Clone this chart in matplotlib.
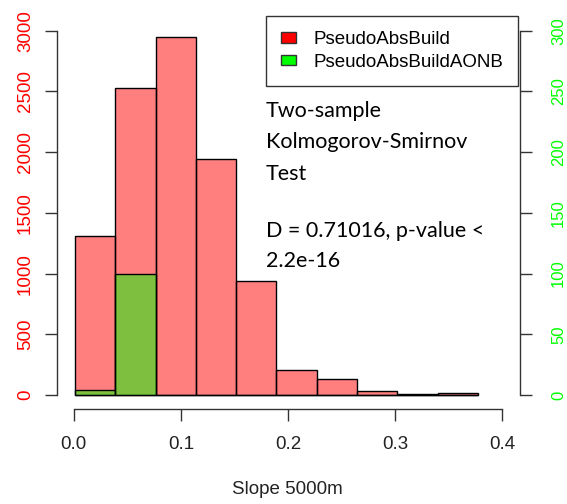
import matplotlib
matplotlib.use("Agg")
import matplotlib.pyplot as plt
import numpy as np
from matplotlib.patches import Patch

# ---- data ----
bin_start = 0.0012
bin_width = 0.0376
build_counts = [1312, 2531, 2949, 1944, 939, 203, 132, 35, 6, 15]
aonb_counts = [4, 100, 0, 0, 0, 0, 0, 0, 0, 0]
left_ticks = [0, 500, 1000, 1500, 2000, 2500, 3000]
right_ticks = [0, 50, 100, 150, 200, 250, 300]
x_ticks = [0.0, 0.1, 0.2, 0.3, 0.4]
x_ticklabels = ["0.0", "0.1", "0.2", "0.3", "0.4"]
legend_labels = ["PseudoAbsBuild", "PseudoAbsBuildAONB"]
annot_lines = ["Two-sample", "Kolmogorov-Smirnov", "Test", "D = 0.71016, p-value <", "2.2e-16"]
xlabel = "Slope 5000m"

W, H = 567, 504
fig = plt.figure(figsize=(W / 100, H / 100), dpi=100)
ax = fig.add_axes([57 / W, 1 - 409 / H, (520 - 57) / W, (409 - 15) / H])

lefts = bin_start + bin_width * np.arange(len(build_counts))
ax.bar(lefts, build_counts, width=bin_width, align="edge",
       facecolor=(1, 0, 0, 0.5), edgecolor="black", linewidth=1.0)
ax.set_xlim(-0.01559, 0.41652)
ax.set_ylim(-115.3, 3129.4)

ax2 = ax.twinx()
ax2.bar(lefts, aonb_counts, width=bin_width, align="edge",
        facecolor=(0, 1, 0, 0.5), edgecolor="black", linewidth=1.0)
ax2.set_ylim(-11.53, 312.94)

for a in (ax, ax2):
    for s in a.spines.values():
        s.set_visible(False)
    a.patch.set_visible(False)

ax.spines["left"].set_visible(True)
ax.spines["left"].set_bounds(0, 3000)
ax.spines["bottom"].set_visible(True)
ax.spines["bottom"].set_bounds(0, 0.4)
ax2.spines["right"].set_visible(True)
ax2.spines["right"].set_bounds(0, 300)
for s in (ax.spines["left"], ax.spines["bottom"], ax2.spines["right"]):
    s.set_color("#333333")
    s.set_linewidth(1.0)

ax.set_yticks(left_ticks)
ax.set_yticklabels([str(v) for v in left_ticks], rotation=90, va="center",
                   color="red", fontsize=13.5, family="Liberation Sans")
ax.tick_params(axis="y", length=8.5, width=1.0, color="#333333", pad=8)
ax.set_xticks(x_ticks)
ax.set_xticklabels(x_ticklabels, fontsize=13.5, family="Liberation Sans", color="#222222")
ax.tick_params(axis="x", length=8.5, width=1.0, color="#333333", pad=11)

ax2.set_yticks(right_ticks)
ax2.set_yticklabels([str(v) for v in right_ticks], rotation=90, va="center",
                    color="#00ff00", fontsize=12, family="Liberation Sans")
ax2.tick_params(axis="y", length=8.5, width=1.0, color="#333333", pad=14)

fig.text(287 / W, 1 - 490 / H, xlabel, ha="center", va="center",
         fontsize=13.5, family="Liberation Sans", color="#222222")

handles = [Patch(facecolor="red", edgecolor="#333333", linewidth=1.0),
           Patch(facecolor="#00ff00", edgecolor="#333333", linewidth=1.0)]
leg = fig.legend(handles, legend_labels, loc="upper left",
                 bbox_to_anchor=(266 / W, 1 - 16 / H),
                 prop={"family": "Liberation Sans", "size": 13.5},
                 frameon=True, fancybox=False, edgecolor="black",
                 handlelength=0.78, handleheight=0.5, handletextpad=0.95,
                 labelspacing=0.3, borderpad=0.8, borderaxespad=0)
leg.get_frame().set_linewidth(1.0)

baselines = [116.7, 148, 180, 236.7, 266.7]
for line, b in zip(annot_lines, baselines):
    fig.text(266 / W, 1 - b / H, line, ha="left", va="baseline",
             fontsize=15.5, family="Lato", color="black")

fig.savefig("out.png", dpi=100)
